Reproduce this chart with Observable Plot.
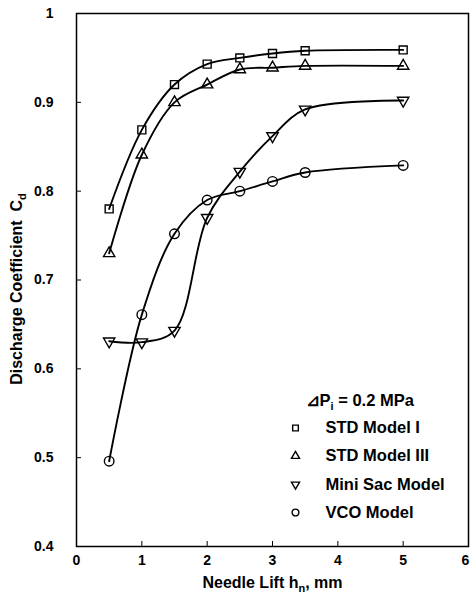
<!DOCTYPE html>
<html><head><meta charset="utf-8">
<script src="https://cdn.jsdelivr.net/npm/d3@7"></script>
<script src="https://cdn.jsdelivr.net/npm/@observablehq/plot@0.6"></script>
<style>body{margin:0;background:#fff} svg{display:block}</style>
</head><body><div id="chart"></div>
<script>
// ---- data ----
const lift = [0.5, 1, 1.5, 2, 2.5, 3, 3.5, 5];
const stdModelI   = [0.780, 0.869, 0.920, 0.943, 0.950, 0.955, 0.958, 0.959];
const stdModelIII = [0.730, 0.841, 0.900, 0.920, 0.937, 0.939, 0.941, 0.941];
const miniSac     = [0.631, 0.630, 0.643, 0.770, 0.822, 0.862, 0.892, 0.902];
const vco         = [0.496, 0.661, 0.752, 0.790, 0.800, 0.811, 0.821, 0.829];
const seriesNames = ["STD Model I", "STD Model III", "Mini Sac Model", "VCO Model"];
const seriesValues = [stdModelI, stdModelIII, miniSac, vco];
const xTicks = [0, 1, 2, 3, 4, 5, 6];
const yTicks = [0.4, 0.5, 0.6, 0.7, 0.8, 0.9, 1.0];
const conditionLabel = "⊿P|i| = 0.2 MPa";
const xTitle = "Needle Lift h|n|, mm";
const yTitle = "Discharge Coefficient  C|d|";

// downward triangle symbol
const triangleDown = {
  draw(context, size) {
    const y = -Math.sqrt(size / (Math.sqrt(3) * 3));
    context.moveTo(0, -y * 2);
    context.lineTo(-Math.sqrt(3) * y, y);
    context.lineTo(Math.sqrt(3) * y, y);
    context.closePath();
  }
};
const symbols = ["square", "triangle", triangleDown, "circle"];
const markerR = [4.5, 4.2, 4.2, 4.8];
const legendR = [3.2, 3.0, 3.0, 3.4];
const legendDy = [-118.5, -90.5, -62, -34];

const tables = seriesValues.map((vals, i) => lift.map((x, j) => ({x, y: vals[j], series: seriesNames[i]})));

const font = "'Liberation Sans', Arial, Helvetica, sans-serif";
const plain = s => s.replace(/\|/g, "");

const marks = [
  Plot.frame({stroke: "black", strokeWidth: 1.5}),
  Plot.axisX({ticks: xTicks, tickFormat: d => String(d), tickSize: -5, tickPadding: 14,
    label: plain(xTitle), labelAnchor: "center", labelOffset: 41, labelArrow: "none", fontSize: 14}),
  Plot.axisY({ticks: yTicks, tickFormat: d => d === 1 ? "1" : d.toFixed(1), tickSize: -5, tickPadding: 28,
    label: plain(yTitle), labelAnchor: "center", labelOffset: 66, labelArrow: "none", fontSize: 14})
];
tables.forEach((t, i) => {
  marks.push(Plot.line(t, {x: "x", y: "y", curve: "catmull-rom", stroke: "black", strokeWidth: 1.9}));
  marks.push(Plot.dot(t, {x: "x", y: "y", symbol: () => symbols[i], r: markerR[i], stroke: "black", strokeWidth: 1.4, fill: "none"}));
});
marks.push(Plot.text([conditionLabel], {text: d => plain(d), frameAnchor: "bottom-right", dx: -163, dy: -146,
  textAnchor: "start", lineAnchor: "middle", fontSize: 16.5, className: "cond-label"}));
seriesNames.forEach((n, i) => {
  marks.push(Plot.dot([n], {frameAnchor: "bottom-right", dx: -173, dy: legendDy[i], symbol: () => symbols[i],
    r: legendR[i], stroke: "black", strokeWidth: 1.4, fill: "none"}));
  marks.push(Plot.text([n], {text: d => d, frameAnchor: "bottom-right", dx: -143, dy: legendDy[i],
    textAnchor: "start", lineAnchor: "middle", fontSize: 16.5}));
});

const chart = Plot.plot({
  width: 470, height: 593,
  marginLeft: 76, marginRight: 2, marginTop: 13, marginBottom: 47,
  style: {fontFamily: font, fontWeight: "bold", fontSize: "14px", color: "black", background: "white"},
  x: {domain: [0, 6]},
  y: {domain: [0.4, 1]},
  marks
});
document.getElementById("chart").appendChild(chart);

// subscripts: segments between | | are subscripted
function applySub(el, str, size) {
  if (!el) return;
  el.textContent = "";
  const parts = str.split("|");
  const ns = "http://www.w3.org/2000/svg";
  let shifted = false;
  parts.forEach((p, k) => {
    if (!p) return;
    const ts = document.createElementNS(ns, "tspan");
    ts.textContent = p;
    if (k % 2 === 1) { ts.setAttribute("dy", "4"); ts.setAttribute("font-size", size); shifted = true; }
    else if (shifted) { ts.setAttribute("dy", "-4"); shifted = false; }
    el.appendChild(ts);
  });
}
const xl = chart.querySelector('g[aria-label="x-axis label"] text');
const yl = chart.querySelector('g[aria-label="y-axis label"] text');
if (xl) xl.setAttribute("font-size", 16);
if (yl) { yl.setAttribute("font-size", 16); yl.setAttribute("dx", "-9"); }
applySub(xl, xTitle, 11);
applySub(yl, yTitle, 11);
applySub(chart.querySelector('g.cond-label text'), conditionLabel, 11);
// keep the last x tick label ("6") inside the picture edge
const xTickTexts = chart.querySelectorAll('g[aria-label="x-axis tick label"] text');
if (xTickTexts.length) xTickTexts[xTickTexts.length - 1].setAttribute("dx", "-3");
</script></body></html>
